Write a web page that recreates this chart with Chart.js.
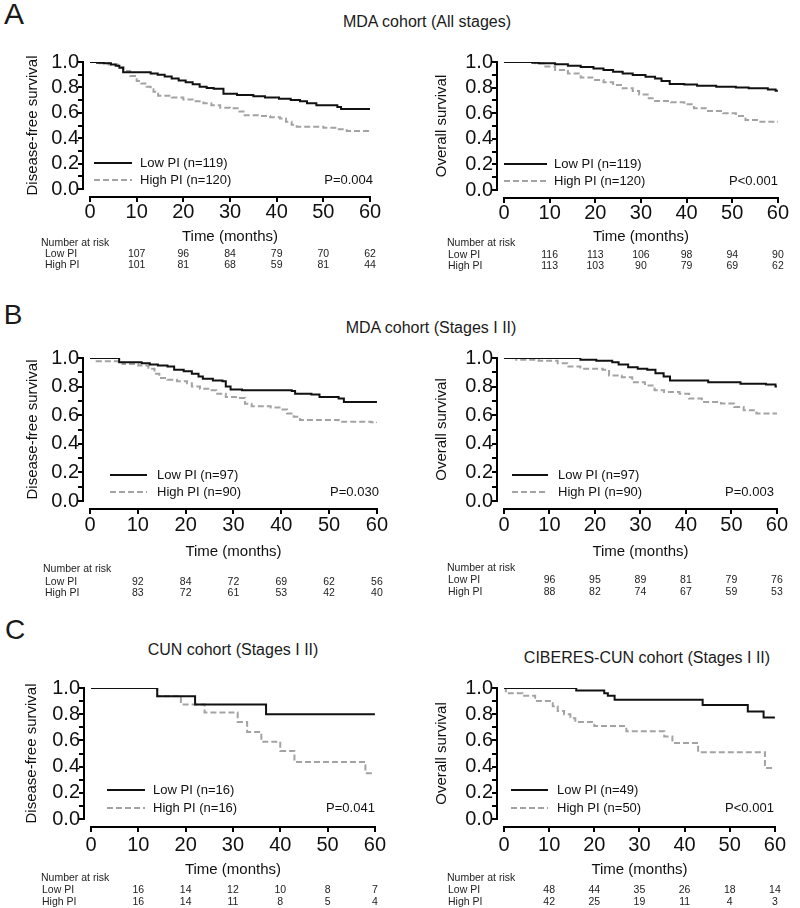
<!DOCTYPE html>
<html>
<head>
<meta charset="utf-8">
<title>Kaplan-Meier curves by PI</title>
<script src="https://cdn.jsdelivr.net/npm/chart.js@4.4.1/dist/chart.umd.min.js"></script>
<style>
  html, body { margin: 0; padding: 0; background: #fff; }
  #fig { position: relative; width: 800px; height: 908px; overflow: hidden;
         font-family: "Liberation Sans", Arial, sans-serif; color: #1a1a1a; }
  .box { position: absolute; }
  .lbl { position: absolute; transform: translate(-50%, -50%); white-space: nowrap; line-height: 1; }
</style>
</head>
<body>
<div id="fig">
  <div class="lbl" style="left:14px;top:14px;font-size:30px">A</div>
  <div class="lbl" style="left:427px;top:22px;font-size:16px">MDA cohort (All stages)</div>
  <div class="lbl" style="left:13px;top:315px;font-size:28px">B</div>
  <div class="lbl" style="left:431px;top:328px;font-size:16px">MDA cohort (Stages I II)</div>
  <div class="lbl" style="left:15px;top:630px;font-size:28px">C</div>
  <div class="lbl" style="left:233px;top:650px;font-size:16px">CUN cohort (Stages I II)</div>
  <div class="lbl" style="left:647px;top:658px;font-size:16px">CIBERES-CUN cohort (Stages I II)</div>

  <div class="box" style="left:0;top:30px;width:400px;height:248px"><canvas id="a-dfs"></canvas></div>
  <div class="box" style="left:400px;top:30px;width:400px;height:248px"><canvas id="a-os"></canvas></div>
  <div class="box" style="left:0;top:335px;width:400px;height:265px"><canvas id="b-dfs"></canvas></div>
  <div class="box" style="left:400px;top:335px;width:400px;height:265px"><canvas id="b-os"></canvas></div>
  <div class="box" style="left:0;top:665px;width:400px;height:243px"><canvas id="c-dfs"></canvas></div>
  <div class="box" style="left:400px;top:665px;width:400px;height:243px"><canvas id="c-os"></canvas></div>
</div>

<script>
  const FONT = '"Liberation Sans", Arial, sans-serif';
  const BLACK = "#111";
  const GRAY = "#a3a3a3";

  // time points (months) of the number-at-risk tables
  const riskTimes = [10, 20, 30, 40, 50, 60];

  // step curves: [month, survival]
  const aDfsLow = [[0,1],[1.5,0.995],[3,0.99],[4.5,0.98],[5.5,0.97],[6.3,0.955],[7.1,0.92],[13,0.91],[14.5,0.9],[16,0.885],[17.5,0.87],[19,0.855],[20.5,0.84],[22,0.825],[23.5,0.805],[25,0.795],[26.5,0.79],[28.6,0.75],[31.5,0.74],[35,0.73],[37.5,0.72],[40.5,0.71],[43,0.7],[45,0.69],[46.5,0.675],[48.5,0.66],[53,0.645],[53.8,0.63],[60,0.63]];
  const aDfsHigh = [[0,1],[2,0.99],[4,0.98],[6,0.96],[7.2,0.93],[8.6,0.89],[10,0.85],[11,0.83],[12.1,0.805],[13,0.785],[13.6,0.765],[14.6,0.735],[17.5,0.72],[20,0.705],[22,0.69],[24.3,0.675],[26,0.66],[27.9,0.64],[30,0.635],[32,0.61],[32.9,0.58],[36.4,0.575],[38.6,0.565],[40.7,0.555],[42,0.53],[43.2,0.505],[44.3,0.49],[50,0.483],[52.9,0.47],[55,0.457],[60,0.455]];
  const aOsLow = [[0,1],[6.2,0.995],[7.6,0.99],[11.2,0.982],[14,0.971],[16.8,0.96],[19.6,0.95],[21.8,0.937],[23.9,0.924],[26,0.91],[28.2,0.898],[31,0.885],[33.1,0.872],[34.5,0.852],[36.3,0.828],[39.5,0.825],[42.3,0.815],[46.5,0.807],[50.8,0.8],[53.6,0.794],[57.8,0.786],[59.5,0.776],[60,0.776]];
  const aOsHigh = [[0,1],[6.9,0.99],[8.7,0.964],[11.2,0.937],[14,0.911],[16.8,0.878],[19.6,0.86],[21.8,0.841],[23.9,0.82],[26,0.794],[28.2,0.773],[29.6,0.747],[31.7,0.716],[33.1,0.695],[36.6,0.685],[39.5,0.669],[41.6,0.638],[44.4,0.617],[48,0.599],[50.8,0.578],[52.9,0.547],[55.8,0.534],[60,0.529]];

  const bDfsLow = [[0,1],[6.1,0.97],[10.8,0.963],[12.5,0.954],[14.2,0.947],[16.2,0.94],[17.6,0.917],[19.6,0.908],[21.3,0.889],[22.7,0.871],[23.6,0.855],[25.7,0.843],[27.7,0.838],[28.4,0.8],[29.4,0.78],[31.8,0.774],[42.2,0.769],[42.9,0.75],[46.3,0.744],[48,0.727],[52,0.716],[53.1,0.693],[60,0.69]];
  const bDfsHigh = [[0,1],[1.4,0.978],[6.8,0.958],[10.1,0.947],[12.2,0.924],[13.5,0.889],[14.5,0.86],[16.2,0.848],[18.2,0.838],[20.3,0.824],[21.3,0.8],[23,0.785],[25,0.774],[26.4,0.75],[28.4,0.727],[31.1,0.72],[32.4,0.68],[33.8,0.663],[37.8,0.654],[39.9,0.64],[41.2,0.612],[42.6,0.589],[43.9,0.566],[52,0.554],[58.8,0.55],[60,0.545]];
  const bOsLow = [[0,1],[16.8,0.988],[20.3,0.98],[23.8,0.97],[25.2,0.954],[27.3,0.935],[29.4,0.924],[31.5,0.917],[33.3,0.894],[35.1,0.871],[36.5,0.843],[44.9,0.831],[52,0.82],[57.6,0.815],[59.7,0.8],[60,0.8]];
  const bOsHigh = [[0,1],[2.7,0.988],[7.6,0.98],[11.8,0.963],[13.9,0.94],[16.8,0.924],[21.7,0.917],[23.1,0.878],[25.9,0.866],[28.2,0.831],[31,0.808],[33.1,0.774],[35.2,0.762],[38.6,0.75],[40.7,0.716],[43.5,0.693],[47.7,0.681],[50.6,0.658],[52.7,0.635],[55.5,0.612],[60,0.607]];

  const cDfsLow = [[0,1],[14,0.9375],[22,0.875],[37,0.8],[60,0.8]];
  const cDfsHigh = [[0,1],[14,0.9375],[19,0.875],[24,0.8125],[31,0.74],[33,0.665],[36,0.59],[40,0.52],[43,0.435],[58,0.35],[60,0.35]];
  const cOsLow = [[0,1],[16,0.98],[22.2,0.96],[23,0.94],[24.5,0.91],[44,0.87],[54,0.82],[57.5,0.775],[60,0.775]];
  const cOsHigh = [[0,1],[0.4,0.96],[4.1,0.94],[6.9,0.9],[10.8,0.86],[11.9,0.825],[13.3,0.8],[14.7,0.77],[15.8,0.74],[20,0.71],[27.1,0.67],[35.5,0.63],[37.3,0.58],[43,0.51],[57.8,0.39],[60,0.39]];

  // number at risk
  const aDfsRiskLow = [107, 96, 84, 79, 70, 62];
  const aDfsRiskHigh = [101, 81, 68, 59, 81, 44];
  const aOsRiskLow = [116, 113, 106, 98, 94, 90];
  const aOsRiskHigh = [113, 103, 90, 79, 69, 62];
  const bDfsRiskLow = [92, 84, 72, 69, 62, 56];
  const bDfsRiskHigh = [83, 72, 61, 53, 42, 40];
  const bOsRiskLow = [96, 95, 89, 81, 79, 76];
  const bOsRiskHigh = [88, 82, 74, 67, 59, 53];
  const cDfsRiskLow = [16, 14, 12, 10, 8, 7];
  const cDfsRiskHigh = [16, 14, 11, 8, 5, 4];
  const cOsRiskLow = [48, 44, 35, 26, 18, 14];
  const cOsRiskHigh = [42, 25, 19, 11, 4, 3];

  const panels = [
    { id: "a-dfs", low: aDfsLow, high: aDfsHigh, nLow: 119, nHigh: 120, p: "P=0.004", yTitle: "Disease-free survival",
      riskLow: aDfsRiskLow, riskHigh: aDfsRiskHigh,
      pad: { left: 0, top: 32, right: 30, bottom: 32 }, yW: 90, xH: 57, xPad: 11, yTitlePad: 24,
      leg: [4, 42, 50], legY: [26, 9], pDx: 3, riskY: [54, 65, 76], riskX: [41, 45] },
    { id: "a-os", low: aOsLow, high: aOsHigh, nLow: 119, nHigh: 120, p: "P<0.001", yTitle: "Overall survival",
      riskLow: aOsRiskLow, riskHigh: aOsRiskHigh,
      pad: { left: 0, top: 32, right: 13, bottom: 32 }, yW: 104, xH: 56, xPad: 11, yTitlePad: 33,
      leg: [0, 43, 50], legY: [26, 9], pDx: 0, riskY: [53, 65, 76], riskX: [47, 48] },
    { id: "b-dfs", low: bDfsLow, high: bDfsHigh, nLow: 97, nHigh: 90, p: "P=0.030", yTitle: "Disease-free survival",
      riskLow: bDfsRiskLow, riskHigh: bDfsRiskHigh,
      pad: { left: 0, top: 22, right: 14, bottom: 39 }, yW: 90, xH: 60, xPad: 12, yTitlePad: 24,
      leg: [20, 57, 67], legY: [26, 9], pDx: 2, riskY: [68, 81, 92], riskX: [43, 45] },
    { id: "b-os", low: bOsLow, high: bOsHigh, nLow: 97, nHigh: 90, p: "P=0.003", yTitle: "Overall survival",
      riskLow: bOsRiskLow, riskHigh: bOsRiskHigh,
      pad: { left: 0, top: 22, right: 12, bottom: 39 }, yW: 104, xH: 60, xPad: 12, yTitlePad: 33,
      leg: [8, 44, 54], legY: [26, 9], pDx: -3, riskY: [67, 79, 91], riskX: [47, 48] },
    { id: "c-dfs", low: cDfsLow, high: cDfsHigh, nLow: 16, nHigh: 16, p: "P=0.041", yTitle: "Disease-free survival",
      riskLow: cDfsRiskLow, riskHigh: cDfsRiskHigh,
      pad: { left: 0, top: 16, right: 15, bottom: 29 }, yW: 91, xH: 60, xPad: 14, yTitlePad: 23,
      leg: [16, 54, 62], legY: [29, 11], pDx: 0, riskY: [59, 71, 83], riskX: [41, 42] },
    { id: "c-os", low: cOsLow, high: cOsHigh, nLow: 49, nHigh: 50, p: "P<0.001", yTitle: "Overall survival",
      riskLow: cOsRiskLow, riskHigh: cOsRiskHigh,
      pad: { left: 0, top: 15, right: 13, bottom: 29 }, yW: 104, xH: 60, xPad: 14, yTitlePad: 33,
      leg: [7, 44, 53], legY: [29, 11], pDx: -1, riskY: [59, 71, 83], riskX: [47, 48] },
  ];

  function toPoints(curve) {
    return curve.map(([t, s]) => ({ x: t, y: s }));
  }

  // Prism-style offset axes, in-plot legend, P value and the risk table
  function kmDecor(cfg) {
    return {
      id: "kmDecor",
      afterDraw(chart) {
        const ctx = chart.ctx;
        const area = chart.chartArea;
        const xs = chart.scales.x;
        const ys = chart.scales.y;
        const x0 = xs.getPixelForValue(0);
        const x1 = xs.getPixelForValue(60);
        const ax = Math.round(area.left) - 8;
        const ay = Math.round(area.bottom) + 7;
        const yTop = Math.round(ys.getPixelForValue(1));
        const yBot = Math.round(ys.getPixelForValue(0));

        ctx.save();
        ctx.globalAlpha = 1;
        ctx.fillStyle = "#000";
        // y axis, a tick every 0.1
        ctx.fillRect(ax, yTop - 1, 2, yBot - yTop + 2);
        for (let i = 0; i <= 10; i++) {
          const py = Math.round(ys.getPixelForValue(i / 10));
          ctx.fillRect(ax - 4, py - 1, 5, 2);
        }
        // x axis, a tick at each of the library's ticks
        ctx.fillRect(Math.round(x0) - 1, ay, Math.round(x1 - x0) + 2, 2);
        xs.ticks.forEach((t) => {
          const px = Math.round(xs.getPixelForValue(t.value));
          ctx.fillRect(px - 1, ay, 2, 6);
        });

        // legend
        ctx.font = "13px " + FONT;
        ctx.textBaseline = "middle";
        const rows = [
          { y: area.bottom - cfg.legY[0], color: BLACK, dash: [], text: "Low PI (n=" + cfg.nLow + ")" },
          { y: area.bottom - cfg.legY[1], color: GRAY, dash: [6, 3], text: "High PI (n=" + cfg.nHigh + ")" },
        ];
        rows.forEach((r) => {
          ctx.strokeStyle = r.color;
          ctx.lineWidth = 2;
          ctx.setLineDash(r.dash);
          ctx.beginPath();
          ctx.moveTo(x0 + cfg.leg[0], r.y);
          ctx.lineTo(x0 + cfg.leg[1], r.y);
          ctx.stroke();
          ctx.fillStyle = BLACK;
          ctx.textAlign = "left";
          ctx.fillText(r.text, x0 + cfg.leg[2], r.y);
        });
        ctx.setLineDash([]);
        ctx.textAlign = "right";
        ctx.fillText(cfg.p, x1 + cfg.pDx, rows[1].y);

        // number at risk
        ctx.font = "10.5px " + FONT;
        ctx.fillStyle = "#222";
        ctx.textAlign = "left";
        ctx.fillText("Number at risk", cfg.riskX[0], area.bottom + cfg.riskY[0]);
        ctx.fillText("Low PI", cfg.riskX[1], area.bottom + cfg.riskY[1]);
        ctx.fillText("High PI", cfg.riskX[1], area.bottom + cfg.riskY[2]);
        ctx.textAlign = "center";
        riskTimes.forEach((t, i) => {
          const px = xs.getPixelForValue(t);
          ctx.fillText(String(cfg.riskLow[i]), px, area.bottom + cfg.riskY[1]);
          ctx.fillText(String(cfg.riskHigh[i]), px, area.bottom + cfg.riskY[2]);
        });
        ctx.restore();
      },
    };
  }

  panels.forEach((p) => {
    new Chart(document.getElementById(p.id), {
      type: "line",
      data: {
        datasets: [
          { label: "Low PI", data: toPoints(p.low), borderColor: BLACK, borderWidth: 2,
            stepped: true, pointRadius: 0, fill: false },
          { label: "High PI", data: toPoints(p.high), borderColor: GRAY, borderWidth: 2,
            borderDash: [6, 3], stepped: true, pointRadius: 0, fill: false },
        ],
      },
      options: {
        responsive: true,
        maintainAspectRatio: false,
        animation: false,
        layout: { padding: p.pad },
        plugins: { legend: { display: false }, tooltip: { enabled: false } },
        scales: {
          x: {
            type: "linear", min: 0, max: 60,
            grid: { display: false, drawTicks: false },
            border: { display: false },
            ticks: { stepSize: 10, padding: p.xPad, maxRotation: 0, autoSkip: false, color: BLACK,
                     font: { family: FONT, size: 20 } },
            title: { display: true, text: "Time (months)", color: BLACK, padding: 0,
                     font: { family: FONT, size: 15 } },
            afterFit: (s) => { s.height = p.xH; },
          },
          y: {
            min: 0, max: 1,
            grid: { display: false, drawTicks: false },
            border: { display: false },
            ticks: { stepSize: 0.2, padding: 11, autoSkip: false, color: BLACK,
                     font: { family: FONT, size: 20 },
                     callback: (v) => v.toFixed(1) },
            title: { display: true, text: p.yTitle, color: BLACK, padding: { top: p.yTitlePad, bottom: 0 },
                     font: { family: FONT, size: 15 } },
            afterFit: (s) => { s.width = p.yW; },
          },
        },
      },
      plugins: [kmDecor(p)],
    });
  });
</script>
</body>
</html>
